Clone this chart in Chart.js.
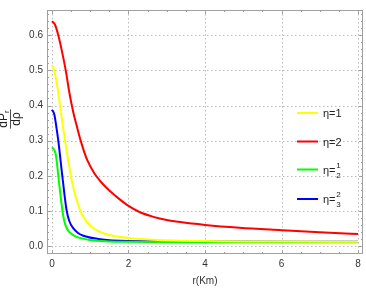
<!DOCTYPE html>
<html>
<head>
<meta charset="utf-8">
<script src="https://cdn.jsdelivr.net/npm/chart.js@4.4.1/dist/chart.umd.min.js"></script>
<style>
  html, body { margin: 0; padding: 0; background: #fff; }
  #wrap { width: 366px; height: 291px; }
</style>
</head>
<body>
<div id="wrap"><canvas id="myChart"></canvas></div>
<script>
// values
const xTicks = [0, 2, 4, 6, 8];
const yTicks = [0.0, 0.1, 0.2, 0.3, 0.4, 0.5, 0.6];

const rYellow = [0, 0.06, 0.13, 0.21, 0.30, 0.40, 0.51, 0.62, 0.73, 0.85, 1.04, 1.3, 1.56, 2.0, 2.65, 4, 6, 8];
const vYellow = [0.515, 0.50, 0.46, 0.40, 0.33, 0.26, 0.19, 0.14, 0.103, 0.078, 0.054, 0.038, 0.030, 0.023, 0.018, 0.014, 0.0125, 0.012];

const rRed = [0, 0.08, 0.165, 0.26, 0.36, 0.45, 0.51, 0.58, 0.64, 0.75, 0.92, 1.12, 1.3, 1.5, 1.78, 2.0, 2.3, 2.65, 3.0, 3.35, 4.0, 4.9, 6, 7, 8];
const vRed = [0.64, 0.63, 0.60, 0.555, 0.50, 0.44, 0.405, 0.37, 0.345, 0.30, 0.245, 0.205, 0.18, 0.158, 0.132, 0.114, 0.096, 0.083, 0.074, 0.068, 0.060, 0.052, 0.045, 0.039, 0.034];

const rGreen = [0, 0.05, 0.09, 0.12, 0.165, 0.27, 0.32, 0.38, 0.45, 0.6, 0.95, 1.5, 2, 4, 8];
const vGreen = [0.281, 0.275, 0.265, 0.245, 0.20, 0.103, 0.072, 0.052, 0.040, 0.028, 0.018, 0.013, 0.012, 0.011, 0.011];

const rBlue = [0, 0.06, 0.12, 0.165, 0.27, 0.38, 0.45, 0.56, 0.68, 0.82, 1.21, 2, 4, 8];
const vBlue = [0.388, 0.375, 0.335, 0.30, 0.20, 0.103, 0.072, 0.050, 0.037, 0.029, 0.020, 0.014, 0.0125, 0.012];

function pts(xs, ys) {
    return xs.map((x, i) => ({ x: x, y: ys[i] }));
}

const FONT = '"Liberation Sans", Arial, sans-serif';

// legend with fractions, frame, dotted grid and minor ticks
const framePlugin = {
    id: 'frame',
    beforeDatasetsDraw(chart) {
        const { ctx, chartArea: a, scales: { x, y } } = chart;
        ctx.save();
        ctx.strokeStyle = '#bbbbbb';
        ctx.lineWidth = 1;
        ctx.setLineDash([1.5, 2.5]);
        xTicks.forEach(v => {
            const px = Math.round(x.getPixelForValue(v)) + 0.5;
            ctx.beginPath(); ctx.moveTo(px, a.top); ctx.lineTo(px, a.bottom); ctx.stroke();
        });
        yTicks.forEach(v => {
            const py = Math.round(y.getPixelForValue(v)) + 0.5;
            ctx.beginPath(); ctx.moveTo(a.left, py); ctx.lineTo(a.right, py); ctx.stroke();
        });
        ctx.setLineDash([]);
        ctx.restore();
    },
    afterDatasetsDraw(chart) {
        const { ctx, chartArea: a, scales: { x, y } } = chart;
        ctx.save();
        // frame
        ctx.strokeStyle = '#a0a0a0';
        ctx.lineWidth = 1;
        ctx.strokeRect(a.left + 0.5, a.top + 0.5, a.right - a.left - 1, a.bottom - a.top - 1);
        // ticks
        ctx.beginPath();
        for (let v = 0; v <= 8.001; v += 0.5) {
            const px = Math.round(x.getPixelForValue(v)) + 0.5;
            const len = (Math.abs(v % 2) < 0.001) ? 4 : 2;
            ctx.moveTo(px, a.bottom); ctx.lineTo(px, a.bottom - len);
            ctx.moveTo(px, a.top); ctx.lineTo(px, a.top + len);
        }
        for (let k = 0; k <= 33; k++) {
            const v = k * 0.02;
            const py = Math.round(y.getPixelForValue(v)) + 0.5;
            const len = (k % 5 === 0) ? 4 : 2;
            ctx.moveTo(a.left, py); ctx.lineTo(a.left + len, py);
            ctx.moveTo(a.right, py); ctx.lineTo(a.right - len, py);
        }
        ctx.stroke();

        // legend
        const items = chart.data.datasets;
        const ly = [113, 141.5, 169.5, 199];
        ctx.lineWidth = 2;
        ctx.fillStyle = '#222';
        ctx.textBaseline = 'middle';
        items.forEach((ds, i) => {
            ctx.strokeStyle = ds.borderColor;
            ctx.beginPath(); ctx.moveTo(297, ly[i]); ctx.lineTo(318, ly[i]); ctx.stroke();
            ctx.font = '11px ' + FONT;
            ctx.textAlign = 'left';
            ctx.fillText('\u03b7=', 323, ly[i] + 1);
            const w = ctx.measureText('\u03b7=').width;
            const lab = ds.label.split('=')[1];
            if (lab.indexOf('/') < 0) {
                ctx.fillText(lab, 323 + w, ly[i] + 1);
            } else {
                const [n, d] = lab.split('/');
                ctx.font = '8px ' + FONT;
                ctx.textAlign = 'center';
                ctx.fillText(n, 323 + w + 3, ly[i] - 4);
                ctx.fillText(d, 323 + w + 3, ly[i] + 6);
            }
        });
        ctx.restore();

        // y axis title: dP_r / d rho, turned a quarter to the left
        ctx.save();
        ctx.setTransform(0, -1, 1, 0, 10, 119);
        ctx.fillStyle = '#222';
        ctx.textAlign = 'left';
        ctx.textBaseline = 'alphabetic';
        ctx.font = '12px ' + FONT;
        const wdP = ctx.measureText('dP').width;
        ctx.font = '8px ' + FONT;
        const wr = ctx.measureText('r').width;
        const top = wdP + wr;
        ctx.font = '12px ' + FONT;
        ctx.fillText('dP', -top / 2, -3);
        ctx.font = '8px ' + FONT;
        ctx.fillText('r', -top / 2 + wdP, -1);
        ctx.font = '12px ' + FONT;
        const wd = ctx.measureText('d\u03c1').width;
        ctx.fillText('d\u03c1', -wd / 2, 10);
        ctx.strokeStyle = '#222';
        ctx.lineWidth = 0.8;
        ctx.beginPath(); ctx.moveTo(-top / 2 - 1, 0.5); ctx.lineTo(top / 2 + 1, 0.5); ctx.stroke();
        ctx.restore();
    }
};

const ctx = document.getElementById('myChart').getContext('2d');
const chart = new Chart(ctx, {
    type: 'line',
    data: {
        datasets: [{
            label: '\u03b7=1',
            data: pts(rYellow, vYellow),
            borderColor: '#ffff00'
        }, {
            label: '\u03b7=2',
            data: pts(rRed, vRed),
            borderColor: '#ff0000'
        }, {
            label: '\u03b7=1/2',
            data: pts(rGreen, vGreen),
            borderColor: '#00ff00'
        }, {
            label: '\u03b7=2/3',
            data: pts(rBlue, vBlue),
            borderColor: '#0000ff'
        }]
    },
    options: {
        responsive: true,
        maintainAspectRatio: false,
        animation: false,
        layout: { padding: { top: 1, right: 3, left: 0, bottom: 0 } },
        elements: {
            point: { radius: 0 },
            line: { borderWidth: 2, cubicInterpolationMode: 'monotone', fill: false }
        },
        plugins: {
            legend: { display: false },
            tooltip: { enabled: false }
        },
        scales: {
            x: {
                type: 'linear',
                min: -0.13,
                max: 8.13,
                afterBuildTicks: s => { s.ticks = xTicks.map(v => ({ value: v })); },
                afterFit: s => { s.height = 37; },
                grid: { display: false, drawTicks: false },
                border: { display: false },
                ticks: { font: { size: 10, family: FONT }, color: '#333', padding: 4, maxRotation: 0 },
                title: { display: true, text: 'r(Km)', font: { size: 10, family: FONT }, color: '#333', padding: { top: 2, bottom: 4 } }
            },
            y: {
                type: 'linear',
                min: -0.0228,
                max: 0.672,
                afterBuildTicks: s => { s.ticks = yTicks.map(v => ({ value: v })); },
                afterFit: s => { s.width = 47; },
                grid: { display: false, drawTicks: false },
                border: { display: false },
                ticks: { font: { size: 10, family: FONT }, color: '#333', padding: 4, callback: v => v.toFixed(1) }
            }
        }
    },
    plugins: [framePlugin]
});
</script>
</body>
</html>
